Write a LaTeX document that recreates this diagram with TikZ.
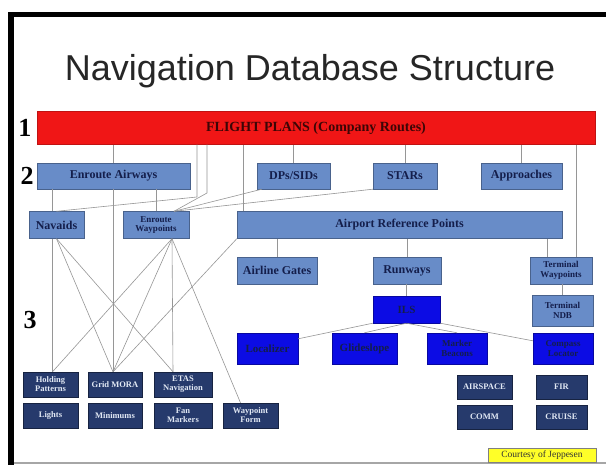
\documentclass[tikz,border=0pt]{standalone}
\usepackage{fontspec}
\setmainfont{Liberation Serif}
\newfontfamily\titlefont{Liberation Sans}
\usetikzlibrary{positioning, calc}
\definecolor{myred}{RGB}{240,22,22}
\definecolor{mysteel}{RGB}{104,140,200}
\definecolor{myblue}{RGB}{12,12,228}
\definecolor{mynavy}{RGB}{38,58,108}
\definecolor{myink}{RGB}{20,30,75}
\definecolor{myline}{RGB}{150,150,150}
\definecolor{myyellow}{RGB}{255,255,40}

\begin{document}
\begin{tikzpicture}[x=1pt, y=-1pt,
    steelbox/.style={draw=mysteel!70!black, fill=mysteel, text=myink, inner sep=1pt, align=center,
                     font=\bfseries\fontsize{12}{12}\selectfont},
    twoline/.style={font=\bfseries\fontsize{9}{9.5}\selectfont},
    ilsbox/.style={draw=myblue!70!black, fill=myblue, text=myink, inner sep=1pt, align=center,
                   font=\bfseries\fontsize{11}{11}\selectfont},
    leafbox/.style={draw=mynavy!60!black, fill=mynavy, text=white!80!mysteel, inner sep=1pt, align=center,
                    minimum height=25pt, font=\bfseries\fontsize{8.5}{9}\selectfont},
    link/.style={draw=myline, line width=0.6pt},
    level/.style={font=\bfseries\fontsize{26}{26}\selectfont}]
    \useasboundingbox (0,0) rectangle (606,465);
    \fill[white] (0,0) rectangle (606,465);

    % slide frame
    \fill[black] (8,12) rectangle (14,465);
    \fill[black] (8,12) rectangle (606,17);
    \draw[black!35, line width=2pt] (14,463) -- (606,463);

    \node[font=\titlefont\fontsize{36}{36}\selectfont, text=black!85] (title) at (310,71) {Navigation Database Structure};

    % level numbers
    \node[level] (one) at (25,128) {1};
    \node[level] (two) at (27,176) {2};
    \node[level] (three) at (30,320) {3};

    % level 1
    \node[draw=myred!80!black, fill=myred, minimum width=558pt, minimum height=33pt, text=black!75!myred,
          font=\bfseries\fontsize{14}{14}\selectfont] (bar) at (316,128) {FLIGHT PLANS (Company Routes)};

    % level 2
    \node[steelbox, minimum width=153pt, minimum height=26pt] (airways) at (113.5,176) {Enroute Airways};
    \node[steelbox, minimum width=73pt, minimum height=26pt] (dps) at (293.5,176) {DPs/SIDs};
    \node[steelbox, minimum width=64pt, minimum height=26pt] (stars) at (405,176) {STARs};
    \node[steelbox, minimum width=81pt, minimum height=26pt] (appr) at (521.5,176) {Approaches};

    \node[steelbox, minimum width=55pt, minimum height=27pt] (navaids) at (56.5,225) {Navaids};
    \node[steelbox, twoline, minimum width=66pt, minimum height=27pt] (enwpt) at (156,225) {Enroute\\Waypoints};
    \node[steelbox, minimum width=325pt, minimum height=27pt] (arp) at (399.5,225) {Airport Reference Points};

    % level 3
    \node[steelbox, minimum width=80pt, minimum height=27pt] (gates) at (277,270.5) {Airline Gates};
    \node[steelbox, minimum width=68pt, minimum height=27pt] (rwy) at (407,270.5) {Runways};
    \node[steelbox, twoline, minimum width=62pt, minimum height=27pt] (termwpt) at (561,270.5) {Terminal\\Waypoints};

    \node[ilsbox, minimum width=67pt, minimum height=27pt] (ils) at (406.5,309.5) {ILS};
    \node[steelbox, twoline, minimum width=61pt, minimum height=31pt] (tndb) at (562.5,310.5) {Terminal\\NDB};

    \node[ilsbox, minimum width=61pt, minimum height=31pt] (loc) at (267.5,348.5) {Localizer};
    \node[ilsbox, minimum width=65pt, minimum height=31pt] (gs) at (364.5,348.5) {Glideslope};
    \node[ilsbox, twoline, minimum width=60pt, minimum height=31pt] (mkr) at (457,348.5) {Marker\\Beacons};
    \node[ilsbox, twoline, minimum width=60pt, minimum height=31pt] (cmp) at (563,348.5) {Compass\\Locator};

    % leaf records
    \node[leafbox, minimum width=55pt] (hold) at (50.5,384.5) {Holding\\Patterns};
    \node[leafbox, minimum width=54pt] (mora) at (115,384.5) {Grid MORA};
    \node[leafbox, minimum width=58pt] (etas) at (183,384.5) {ETAS\\Navigation};
    \node[leafbox, minimum width=55pt] (lights) at (50.5,415.5) {Lights};
    \node[leafbox, minimum width=54pt] (mins) at (115,415.5) {Minimums};
    \node[leafbox, minimum width=58pt] (fan) at (183,415.5) {Fan\\Markers};
    \node[leafbox, minimum width=55pt] (wptform) at (250.5,415.5) {Waypoint\\Form};

    \node[leafbox, minimum width=55pt, minimum height=24pt] (airspace) at (484.5,387) {AIRSPACE};
    \node[leafbox, minimum width=55pt, minimum height=24pt] (comm) at (484.5,417) {COMM};
    \node[leafbox, minimum width=51pt, minimum height=24pt] (fir) at (561.5,387) {FIR};
    \node[leafbox, minimum width=51pt, minimum height=24pt] (cruise) at (561.5,417) {CRUISE};

    \node[draw=black!50, fill=myyellow, minimum width=108pt, minimum height=14pt, inner sep=0pt,
          font=\fontsize{9.5}{10}\selectfont, text=black!80] (credit) at (542,455) {Courtesy of Jeppesen};

    % level 1 to level 2
    \foreach \n in {airways, dps, stars, appr}
        \draw[link] (\n.north) -- (\n.north |- bar.south);
    \coordinate (arpin) at ([xshift=6pt]arp.north west);
    \draw[link] (arpin) -- (arpin |- bar.south);
    \coordinate (twin) at ([xshift=-16pt]termwpt.north east);
    \draw[link] (twin) -- (twin |- bar.south);
    \coordinate (navkink) at (197,197);
    \coordinate (wptkink) at (207,193);
    \coordinate (wptin) at ([xshift=18pt]enwpt.north);
    \draw[link] (navkink |- bar.south) -- (navkink) -- (navaids.north);
    \draw[link] (wptkink |- bar.south) -- (wptkink) -- (wptin);
    \draw[link] ([xshift=5pt]dps.south west) -- (wptin);
    \draw[link] (stars.south west) -- (wptin);

    % enroute airways down
    \coordinate (navin) at ([xshift=-4pt]navaids.north);
    \draw[link] (navin) -- (navin |- airways.south);
    \draw[link] (enwpt.north) -- (enwpt.north |- airways.south);
    \coordinate (morain) at ([xshift=-2pt]mora.north);
    \draw[link] (morain) -- (morain |- airways.south);

    % navaids and waypoints to leaf records
    \coordinate (navout) at ([xshift=-4pt]navaids.south);
    \coordinate (wptout) at ([xshift=16pt]enwpt.south);
    \coordinate (etasin) at ([xshift=-10pt]etas.north);
    \draw[link] (navout) -- (navout |- hold.north);
    \draw[link] (navaids.south) -- (morain);
    \draw[link] (navaids.south) -- (etasin);
    \draw[link] (wptout) -- (etasin);
    \draw[link] (wptout) -- ([xshift=2pt]hold.north);
    \draw[link] (wptout) -- (morain);
    \draw[link] (wptout) -- ([xshift=-10pt]wptform.north);
    \draw[link] (arp.south west) -- (morain);

    % airport side
    \draw[link] (gates.north) -- (gates.north |- arp.south);
    \draw[link] (rwy.north) -- (rwy.north |- arp.south);
    \coordinate (twin2) at ([xshift=-14pt]termwpt.north);
    \draw[link] (twin2) -- (twin2 |- arp.south);
    \draw[link] (ils.north) -- (ils.north |- rwy.south);
    \draw[link] (tndb.north) -- (tndb.north |- termwpt.south);
    \draw[link] (ils.south west) -- ([yshift=-6pt]loc.north east);
    \draw[link] (ils.south) -- (gs.north);
    \draw[link] (ils.south) -- (mkr.north);
    \draw[link] (ils.south east) -- ([yshift=-8pt]cmp.north west);
\end{tikzpicture}
\end{document}
